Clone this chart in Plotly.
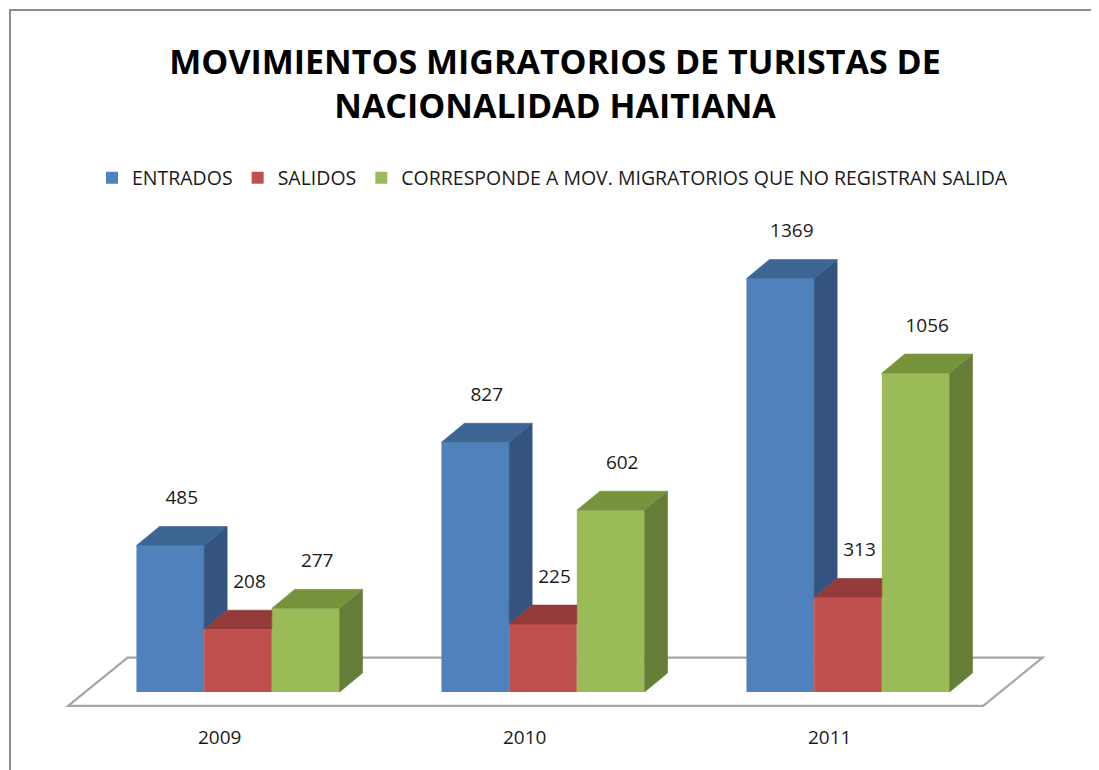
import plotly.graph_objects as go

# ---------------- data ----------------
years = ["2009", "2010", "2011"]
entrados = [485, 827, 1369]
salidos = [208, 225, 313]
no_salida = [277, 602, 1056]
series_names = ["ENTRADOS", "SALIDOS",
                "CORRESPONDE A MOV. MIGRATORIOS QUE NO REGISTRAN SALIDA"]
title_lines = ["MOVIMIENTOS MIGRATORIOS DE TURISTAS DE", "NACIONALIDAD HAITIANA"]

# ---------------- style ----------------
front_colors = ["#4F81BD", "#C0504D", "#9BBB59"]
top_colors = ["#3D6594", "#923B39", "#77933C"]
side_colors = ["#34547F", "#7E3230", "#657D37"]
FONT = "Open Sans"
TXT = "#1a1a1a"

W, H = 1099, 770
MB = 54
PLOT_H = H - MB
BASE_PX = 684
PX_PER_UNIT = 0.302
PX_PER_CAT = 305
CAT0_PX = 230
x_range = [-CAT0_PX / PX_PER_CAT, (W - CAT0_PX) / PX_PER_CAT]
y_range = [-(PLOT_H - BASE_PX) / PX_PER_UNIT, BASE_PX / PX_PER_UNIT]

BAR_W = 67.7 / PX_PER_CAT
DX = 23 / PX_PER_CAT
DY = 19 / PX_PER_UNIT
LABEL_GAP = 27 / PX_PER_UNIT

series = [entrados, salidos, no_salida]
xi = list(range(len(years)))

fig = go.Figure()

# front faces as real bars
for k, (name, vals) in enumerate(zip(series_names, series)):
    fig.add_trace(go.Bar(
        x=xi, y=vals, name=name, width=BAR_W,
        offset=(k - 1) * BAR_W - BAR_W / 2,
        marker=dict(color=front_colors[k], line=dict(width=0)),
        hoverinfo="skip",
    ))


def poly(xs, ys, color):
    fig.add_trace(go.Scatter(
        x=xs + [xs[0]], y=ys + [ys[0]], mode="lines", fill="toself",
        fillcolor=color, line=dict(width=0.6, color=color),
        showlegend=False, hoverinfo="skip",
    ))


# depth faces (side + top), clipped against the neighbouring bar
for i in xi:
    for k, vals in enumerate(series):
        v = vals[i]
        xl = i + (k - 1) * BAR_W - BAR_W / 2
        xr = xl + BAR_W
        v2 = series[k + 1][i] if k + 1 < len(series) else None
        # side face
        if v2 is None:
            poly([xr, xr + DX, xr + DX, xr], [0, DY, v + DY, v], side_colors[k])
        elif v > v2:
            poly([xr, xr + DX, xr + DX, xr], [v2, v2 + DY, v + DY, v], side_colors[k])
        # top face
        if v2 is None or v2 <= v:
            poly([xl, xl + DX, xr + DX, xr], [v, v + DY, v + DY, v], top_colors[k])
        elif v2 >= v + DY:
            poly([xl, xl + DX, xr, xr], [v, v + DY, v + DY, v], top_colors[k])
        else:
            t = (v + DY - v2) / DY
            poly([xl, xl + DX, xr + t * DX, xr, xr],
                 [v, v + DY, v + DY, v2, v], top_colors[k])

# data labels
for k, vals in enumerate(series):
    fig.add_trace(go.Scatter(
        x=[i + (k - 1) * BAR_W + DX / 2 for i in xi],
        y=[v + DY + LABEL_GAP for v in vals],
        text=[str(v) for v in vals], mode="text",
        textposition="middle center",
        textfont=dict(family=FONT, size=19, color=TXT),
        showlegend=False, hoverinfo="skip",
    ))

# floor (3D base plane)
FLOOR_X0, FLOOR_X1 = -0.557, 2.443
FLOOR_DX = 0.195
FLOOR_FRONT, FLOOR_BACK = -46, 114
floor_path = (f"M {FLOOR_X0},{FLOOR_FRONT} L {FLOOR_X0 + FLOOR_DX},{FLOOR_BACK} "
              f"L {FLOOR_X1 + FLOOR_DX},{FLOOR_BACK} L {FLOOR_X1},{FLOOR_FRONT} Z")

fig.update_layout(
    width=W, height=H,
    margin=dict(l=0, r=0, t=0, b=MB, autoexpand=False),
    paper_bgcolor="white", plot_bgcolor="white",
    barmode="overlay",
    showlegend=True,
    title=dict(
        text="<br>".join(title_lines),
        font=dict(family=FONT, size=34, color="black", weight=700),
        x=547 / W, xanchor="center", xref="paper",
        y=1 - 66 / H, yanchor="middle", yref="container",
    ),
    legend=dict(
        orientation="h", x=84 / W, xanchor="left",
        y=1 - 170 / PLOT_H, yanchor="middle",
        font=dict(family=FONT, size=19.5, color=TXT),
        bgcolor="rgba(0,0,0,0)", traceorder="normal",
    ),
    xaxis=dict(
        range=x_range, showgrid=False, zeroline=False, showline=False,
        tickmode="array", tickvals=[i - 0.06 for i in xi], ticktext=years,
        ticks="", tickfont=dict(family=FONT, size=19, color=TXT),
        fixedrange=True,
    ),
    yaxis=dict(range=y_range, visible=False, fixedrange=True),
    shapes=[
        dict(type="path", path=floor_path, xref="x", yref="y", layer="below",
             fillcolor="white", line=dict(color="#A6A6A6", width=2.2)),
        dict(type="rect", xref="paper", yref="paper",
             x0=2 / W, x1=1.05, y0=-0.2, y1=1 - 2 / PLOT_H,
             line=dict(color="#8C8C8C", width=2), fillcolor="rgba(0,0,0,0)",
             layer="above"),
    ],
)

fig.write_html("out.html")
